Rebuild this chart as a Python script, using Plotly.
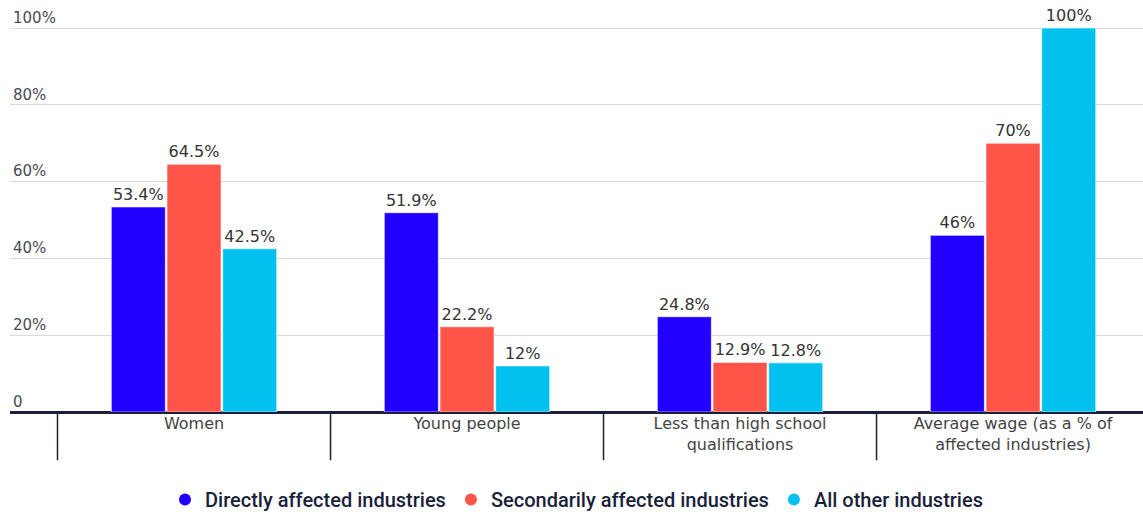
import plotly.graph_objects as go

categories = ["Women", "Young people", "Less than high school<br>qualifications",
              "Average wage (as a % of<br>affected industries)"]
series_names = ["Directly affected industries", "Secondarily affected industries", "All other industries"]
directly = [53.4, 51.9, 24.8, 46]
secondarily = [64.5, 22.2, 12.9, 70]
other = [42.5, 12, 12.8, 100]
colors = ["#2100FF", "#FF5447", "#03C1EE"]
y_ticks = [0, 20, 40, 60, 80, 100]
y_tick_labels = ["0", "20%", "40%", "60%", "80%", "100%"]

fig = go.Figure()
for name, vals, col in zip(series_names, [directly, secondarily, other], colors):
    fig.add_trace(go.Bar(
        x=categories, y=vals, name=name, showlegend=False,
        marker=dict(color=col, line=dict(color="rgba(255,255,255,0.6)", width=1)),
        text=[f"{v:g}%" for v in vals], textposition="outside", cliponaxis=False,
        textfont=dict(family="DejaVu Sans", size=16, color="#333333"),
        hoverinfo="skip",
    ))
for name, col in zip(series_names, colors):
    fig.add_trace(go.Scatter(
        x=[None], y=[None], mode="markers", name=name,
        marker=dict(symbol="circle", size=18, color=col),
    ))

# category dividers below the axis
for i in range(len(categories)):
    fig.add_shape(type="line", xref="x", yref="paper", x0=i - 0.5, x1=i - 0.5,
                  y0=0, y1=-0.117, line=dict(color="#1a1f3a", width=1.5))

fig.update_layout(
    width=1143, height=515,
    margin=dict(l=10, r=0, t=0, b=103, autoexpand=False),
    plot_bgcolor="white", paper_bgcolor="white",
    barmode="group", bargap=0.388, bargroupgap=0.03,
    font=dict(family="DejaVu Sans", size=15, color="#444444"),
    xaxis=dict(
        type="category", range=[-0.674, 3.476], showgrid=False, automargin=False,
        showline=False, ticks="", tickfont=dict(family="DejaVu Sans", size=16, color="#444444"),
        fixedrange=True,
    ),
    yaxis=dict(
        range=[0, 107.3], tickvals=y_ticks, ticktext=y_tick_labels, automargin=False,
        ticklabelposition="inside top", showgrid=True, gridcolor="#d9d9de", gridwidth=1,
        zeroline=True, zerolinecolor="#1a1f3a", zerolinewidth=2.5,
        tickfont=dict(family="DejaVu Sans", size=15, color="#4a4a55"),
        showline=False, ticks="",
    ),
    legend=dict(
        orientation="h", x=0.5, xanchor="center", yref="container", y=0.03, yanchor="middle",
        font=dict(family="Roboto", size=20, color="#1a1f3a", weight=500),
        itemsizing="constant",
    ),
)

fig.write_html("out.html", config={"displayModeBar": False},
               post_script="document.body.style.margin='0';")
